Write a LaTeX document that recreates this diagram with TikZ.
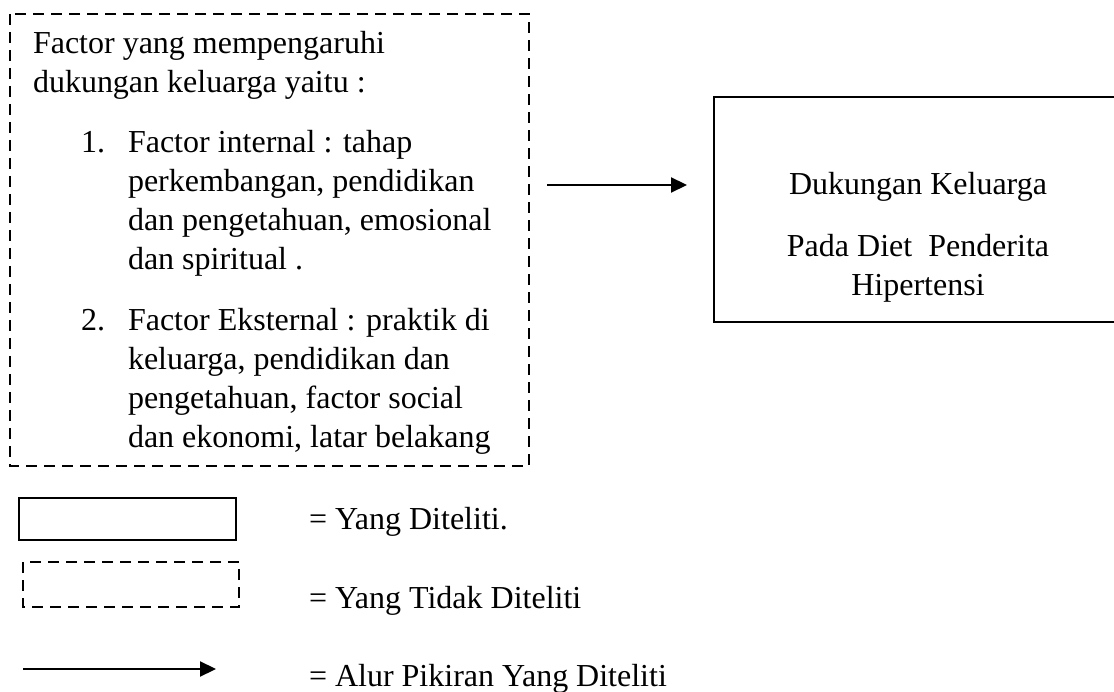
\documentclass[tikz,border=0pt]{standalone}
\usepackage{fontspec}
\setmainfont{Liberation Serif}
\usetikzlibrary{arrows.meta}
\newcommand{\txtfont}{\fontsize{32}{38.7}\selectfont}
\tikzset{
  txt/.style={inner sep=0pt, outer sep=0pt, font=\txtfont},
  dashbox/.style={draw, line width=2.4pt, dash pattern=on 11pt off 7pt},
  solidbox/.style={draw, line width=2.6pt},
  flow/.style={line width=2.2pt, -{Triangle[length=16pt,width=15pt]}}
}
\begin{document}
\begin{tikzpicture}[x=1pt,y=-1pt]
\useasboundingbox (0,0) rectangle (1114,692);
% left dashed box
\draw[dashbox] (10,14) rectangle (529,466);
\node[txt, anchor=base west] (head) at (33,54)
  {\begin{tabular}[t]{@{}l@{}}Factor yang mempengaruhi\\dukungan keluarga yaitu :\end{tabular}};
\node[txt, anchor=base west] (n1) at (81,153) {1.};
\node[txt, anchor=base west] (t1) at (128,153)
  {\begin{tabular}[t]{@{}l@{}}Factor internal : tahap\\perkembangan, pendidikan\\dan pengetahuan, emosional\\dan spiritual .\end{tabular}};
\node[txt, anchor=base west] (n2) at (81,331) {2.};
\node[txt, anchor=base west] (t2) at (128,331)
  {\begin{tabular}[t]{@{}l@{}}Factor Eksternal : praktik di\\keluarga, pendidikan dan\\pengetahuan, factor social\\dan ekonomi, latar belakang\end{tabular}};
\coordinate (src) at (547,185);
% right box
\draw[solidbox] (714,97) rectangle (1124,322);
\node[txt, anchor=base] (d1) at (918,195) {Dukungan Keluarga};
\node[txt, anchor=base] (d2) at (918,257)
  {\begin{tabular}[t]{@{}c@{}}Pada Diet\ \ Penderita\\Hipertensi\end{tabular}};
\coordinate (dst) at (687,185);
\draw[flow] (src) -- (dst);
% legend
\draw[line width=1.6pt] (19,498) rectangle (236,540);
\node[txt, anchor=base west] (l1) at (309,529) {= Yang Diteliti.};
\draw[dashbox, line width=2.2pt] (23,562) rectangle (239,607);
\node[txt, anchor=base west] (l2) at (309,608) {= Yang Tidak Diteliti};
\coordinate (la) at (23,669);
\coordinate (lb) at (216,669);
\draw[flow] (la) -- (lb);
\node[txt, anchor=base west] (l3) at (309,686) {= Alur Pikiran Yang Diteliti};
\end{tikzpicture}
\end{document}
